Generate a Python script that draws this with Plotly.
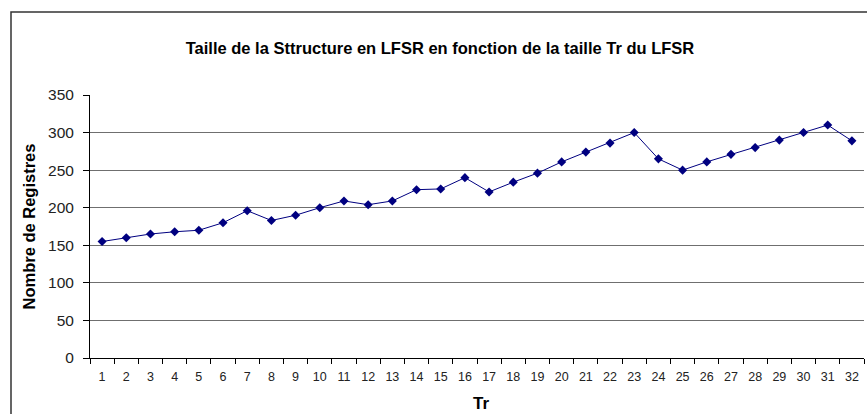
import plotly.graph_objects as go

# LFSR size Tr (categories) and resulting register count
tr_labels = [str(i) for i in range(1, 33)]
registres = [155, 160, 165, 168, 170, 180, 196, 183, 190, 200, 209, 204, 209, 224, 225, 240,
             221, 234, 246, 261, 274, 286, 300, 265, 250, 261, 271, 280, 290, 300, 310, 289]
y_ticks = [0, 50, 100, 150, 200, 250, 300, 350]

W, H = 867, 414
ML, MR, MT, MB = 90, 3, 95, 56
PW, PH = W - ML - MR, H - MT - MB


def px_x(p):
    return (p - ML) / PW


def px_y(p):
    return (H - MB - p) / PH


FONT = "Liberation Sans, Arial, sans-serif"
navy = "#000080"

fig = go.Figure()
fig.add_trace(go.Scatter(
    x=tr_labels, y=registres, mode="lines+markers",
    line=dict(color=navy, width=1),
    marker=dict(symbol="diamond", size=7, color=navy),
    showlegend=False,
))

fig.update_layout(
    width=W, height=H,
    margin=dict(l=ML, r=MR, t=MT, b=MB),
    paper_bgcolor="white", plot_bgcolor="white",
    title=dict(
        text="Taille de la Sttructure en LFSR en fonction de la taille Tr du LFSR",
        font=dict(family=FONT, size=16.5, color="black", weight="bold"),
        xref="container", yref="container",
        x=440 / W, y=1 - 48 / H, xanchor="center", yanchor="middle",
    ),
    xaxis=dict(
        type="category", range=[-0.5, 31.5],
        tickson="boundaries", ticks="outside", ticklen=5, tickcolor="black",
        ticklabelstandoff=7,
        showline=True, linecolor="black", linewidth=1,
        showgrid=False, zeroline=False,
        tickfont=dict(family=FONT, size=12.5, color="#222"),
    ),
    yaxis=dict(
        range=[0, 350], tickvals=y_ticks,
        ticks="outside", ticklen=6, tickcolor="black", ticklabelstandoff=6,
        showline=True, linecolor="black", linewidth=1,
        showgrid=True, gridcolor="#6f6f6f", gridwidth=1.4,
        zeroline=False,
        tickfont=dict(family=FONT, size=15.5, color="#222"),
    ),
    shapes=[dict(
        type="rect", xref="paper", yref="paper",
        x0=px_x(11), x1=1.2, y0=-0.6, y1=px_y(12),
        line=dict(color="#333", width=1.5), fillcolor="rgba(0,0,0,0)", layer="below",
    )],
    annotations=[
        dict(text="Nombre de Registres", xref="paper", yref="paper",
             x=px_x(28), y=0.5, textangle=-90, showarrow=False,
             xanchor="center", yanchor="middle",
             font=dict(family=FONT, size=16.5, color="black", weight="bold")),
        dict(text="Tr", xref="paper", yref="paper",
             x=px_x(480.5), y=px_y(403.7), showarrow=False,
             xanchor="center", yanchor="middle",
             font=dict(family=FONT, size=17, color="black", weight="bold")),
    ],
)

fig.write_html("out.html")
